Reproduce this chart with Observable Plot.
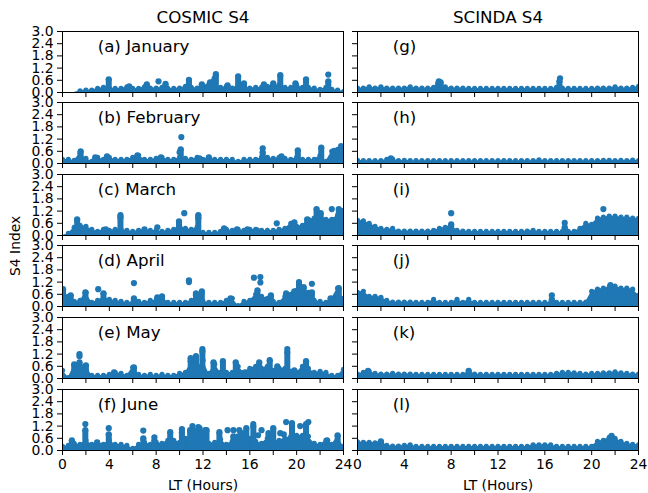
<!DOCTYPE html>
<html><head><meta charset="utf-8">
<script src="https://cdn.jsdelivr.net/npm/d3@7"></script>
<script src="https://cdn.jsdelivr.net/npm/@observablehq/plot@0.6"></script>
<style>
body{margin:0;background:#fff;}
#chart{position:relative;width:648px;height:493px;overflow:hidden;font-family:"DejaVu Sans",sans-serif;}
#chart svg{position:absolute;}
</style></head><body><div id="chart"></div>
<script>
// ---- data ----
const halfHours = [0,0.5,1,1.5,2,2.5,3,3.5,4,4.5,5,5.5,6,6.5,7,7.5,8,8.5,9,9.5,10,10.5,11,11.5,12,12.5,13,13.5,14,14.5,15,15.5,16,16.5,17,17.5,18,18.5,19,19.5,20,20.5,21,21.5,22,22.5,23,23.5,24];
const xTicks = [0,2,4,6,8,10,12,14,16,18,20,22,24];
const yTicks = [0,0.6,1.2,1.8,2.4,3.0];
const months = ["January","February","March","April","May","June"];
const cosmicLetters = ["a","b","c","d","e","f"];
const scindaLetters = ["g","h","i","j","k","l"];
const columnTitles = ["COSMIC S4","SCINDA S4"];

// COSMIC S4 dense envelope (every half hour)
const cosmicJanBase = [0,0,0,0.08,0.12,0.12,0.2,0.25,0.22,0.2, 0.2,0.28,0.2,0.2,0.28,0.22,0.22,0.25,0.2,0.2, 0.22,0.3,0.25,0.22,0.35,0.4,0.4,0.25,0.3,0.22, 0.35,0.3,0.22,0.25,0.25,0.3,0.4,0.35,0.25,0.25, 0.35,0.25,0.25,0.22,0.15,0.25,0.15,0.12,0.05];
const cosmicFebBase = [0.2,0.2,0.15,0.5,0.25,0.1,0.3,0.2,0.3,0.2, 0.2,0.2,0.3,0.4,0.2,0.2,0.25,0.3,0.2,0.2, 0.3,0.25,0.2,0.3,0.2,0.3,0.2,0.2,0.2,0.2, 0.1,0.2,0.2,0.2,0.3,0.3,0.25,0.3,0.25,0.2, 0.3,0.2,0.2,0.2,0.4,0.1,0.6,0.7,0.45];
const cosmicMarBase = [0,0.1,0.4,0.5,0.45,0.3,0.2,0.3,0.25,0.3, 0.3,0.25,0.2,0.25,0.25,0.25,0.25,0.2,0.25,0.3, 0.5,0.35,0.3,0.4,0.15,0.15,0.15,0.2,0.3,0.25, 0.3,0.25,0.3,0.3,0.25,0.25,0.25,0.3,0.35,0.6, 0.45,0.5,0.8,0.85,1.0,0.8,0.8,1.0,0.7];
const cosmicAprBase = [0.8,0.5,0.25,0.3,0.7,0.2,0.3,0.45,0.35,0.3, 0.25,0.2,0.2,0.25,0.2,0.3,0.3,0.5,0.2,0.2, 0.2,0.2,0.3,0.55,0.25,0.2,0.2,0.2,0.3,0.4, 0.05,0.25,0.3,0.6,0.5,0.4,0.25,0.2,0.5,0.6, 0.8,0.9,0.7,0.3,0.25,0.2,0.4,0.9,0.4];
const cosmicMayBase = [0.4,0.05,0.65,0.65,0.65,0.15,0.15,0.15,0.2,0.3, 0.25,0.15,0.55,0.2,0.15,0.2,0.15,0.2,0.15,0.15, 0.25,0.3,0.8,0.5,0.9,0.25,0.7,0.3,0.3,0.3, 0.6,0.3,0.5,0.6,0.5,0.6,0.4,0.5,0.5,0.35, 0.3,0.6,0.5,0.3,0.35,0.3,0.15,0.15,0.45];
const cosmicJunBase = [0.2,0.25,0.35,0.3,0.5,0.3,0.4,0.3,0.5,0.3, 0.3,0.25,0.1,0.3,0.4,0.3,0.4,0.35,0.5,0.5, 0.4,0.6,0.6,0.6,0.5,0.35,0.4,0.55,0.3,0.45, 0.5,0.55,0.6,0.45,0.35,0.6,0.45,0.5,0.6,0.7, 0.75,0.75,0.7,0.35,0.3,0.5,0.3,0.7,0.2];

// COSMIC S4 columns [hour, top] and isolated points [hour, value]
const cosmicJanCols = [[3.95,0.65],[5.7,0.3],[7.2,0.4],[8.8,0.42],[10.8,0.62],[11.9,0.4],[12.6,0.5],[13.1,0.9],[14.1,0.35],[15.0,0.8],[15.5,0.45],[17.2,0.4],[18.0,0.45],[18.6,0.85],[19.9,0.45],[20.8,0.65],[22.7,0.55]];
const cosmicJanDots = [[8.2,0.55],[22.7,0.88],[13.0,0.7],[12.9,0.55]];
const cosmicFebCols = [[1.55,0.6],[2.8,0.3],[3.8,0.35],[6.4,0.4],[8.4,0.3],[10.1,0.7],[11.7,0.25],[12.5,0.3],[17.1,0.55],[18.7,0.35],[20.1,0.65],[22.1,0.78],[23.2,0.62],[23.8,0.85]];
const cosmicFebDots = [[10.15,1.3],[17.1,0.75],[10.0,0.55]];
const cosmicMarCols = [[1.25,0.8],[3.7,0.3],[4.95,0.9],[7.0,0.3],[9.95,0.7],[11.6,1.0],[13.8,0.35],[14.9,0.3],[15.8,0.3],[16.6,0.25],[19.8,0.65],[20.9,0.8],[21.7,1.3],[22.05,1.1],[23.6,1.3],[23.9,1.2]];
const cosmicMarDots = [[4.95,1.0],[8.1,0.4],[10.4,1.1],[18.3,0.6],[23.0,1.3],[11.6,0.85]];
const cosmicAprCols = [[0.05,0.85],[0.7,0.55],[1.96,0.7],[3.5,0.65],[6.1,0.4],[8.1,0.45],[8.5,0.5],[11.4,0.55],[11.9,0.75],[14.35,0.4],[16.65,0.8],[17.8,0.55],[19.1,0.65],[19.8,0.75],[20.2,1.2],[20.6,0.95],[21.3,0.7],[22.9,0.4],[23.6,0.9]];
const cosmicAprDots = [[3.05,0.85],[6.1,1.15],[10.8,1.2],[10.8,1.28],[16.35,1.42],[16.9,1.45],[16.9,1.18],[21.3,1.12],[11.4,0.65]];
const cosmicMayCols = [[1.0,0.7],[1.45,0.8],[2.0,0.65],[4.4,0.3],[6.1,0.55],[10.95,1.0],[11.4,1.1],[11.95,1.35],[12.9,0.8],[13.7,0.85],[14.8,0.8],[15.6,0.3],[16.8,0.8],[17.7,0.9],[18.35,0.6],[19.2,1.3],[19.8,0.4],[20.8,0.85]];
const cosmicMayDots = [[1.45,1.2],[1.45,1.1],[11.95,1.45],[19.2,1.45],[10.95,0.85],[11.4,0.95]];
const cosmicJunCols = [[0.8,0.5],[1.95,1.0],[2.95,0.4],[3.95,0.8],[6.9,0.6],[7.85,0.5],[9.2,0.9],[10.2,0.9],[10.9,1.0],[11.3,0.95],[11.7,1.1],[12.0,0.85],[12.3,1.0],[13.4,0.9],[14.6,0.7],[15.3,0.85],[15.7,1.1],[16.3,1.2],[17.6,0.85],[18.0,1.1],[19.6,1.25],[20.8,1.3],[22.6,0.5],[23.5,0.75]];
const cosmicJunDots = [[1.95,1.3],[3.95,1.1],[6.9,0.98],[7.85,0.65],[10.2,1.05],[11.1,1.2],[11.6,1.15],[12.2,1.0],[14.1,1.0],[14.6,1.0],[15.1,1.0],[15.0,0.7],[16.3,1.3],[16.7,0.75],[17.0,1.0],[18.6,0.85],[18.9,0.8],[19.1,1.4],[19.6,1.35],[20.3,1.2],[21.0,1.4]];

// SCINDA S4 dense envelope (every half hour)
const scindaJanBase = [0.22,0.22,0.28,0.22,0.28,0.22,0.22,0.22,0.22,0.28, 0.22,0.22,0.22,0.25,0.45,0.28,0.22,0.22,0.22,0.2, 0.2,0.2,0.2,0.2,0.2,0.2,0.2,0.2,0.2,0.2, 0.2,0.2,0.2,0.2,0.25,0.22,0.2,0.2,0.2,0.2, 0.2,0.22,0.22,0.22,0.28,0.22,0.22,0.25,0.3];
const scindaFebBase = [0.16,0.14,0.14,0.14,0.14,0.2,0.22,0.14,0.16,0.14, 0.14,0.14,0.14,0.14,0.14,0.14,0.14,0.14,0.14,0.14, 0.14,0.14,0.14,0.14,0.14,0.14,0.14,0.14,0.14,0.14, 0.14,0.18,0.14,0.14,0.14,0.14,0.14,0.14,0.14,0.14, 0.14,0.14,0.16,0.16,0.14,0.16,0.14,0.17,0.14];
const scindaMarBase = [0.75,0.72,0.6,0.45,0.35,0.3,0.35,0.22,0.22,0.22, 0.22,0.22,0.22,0.25,0.35,0.4,0.5,0.25,0.22,0.2, 0.2,0.2,0.2,0.2,0.2,0.2,0.2,0.2,0.2,0.22, 0.25,0.2,0.2,0.2,0.2,0.2,0.2,0.2,0.35,0.6, 0.55,0.85,0.9,0.95,0.95,0.9,0.9,0.85,0.85];
const scindaAprBase = [0.7,0.75,0.5,0.5,0.45,0.3,0.22,0.22,0.22,0.22, 0.2,0.2,0.2,0.35,0.2,0.2,0.2,0.35,0.2,0.35, 0.2,0.2,0.2,0.2,0.2,0.2,0.2,0.2,0.2,0.2, 0.2,0.2,0.2,0.2,0.2,0.2,0.2,0.2,0.2,0.22, 0.75,0.85,0.9,0.95,1.0,0.9,0.9,0.85,0.55];
const scindaMayBase = [0.22,0.3,0.35,0.25,0.22,0.22,0.25,0.22,0.22,0.22, 0.2,0.2,0.2,0.2,0.2,0.2,0.2,0.2,0.2,0.35, 0.22,0.2,0.2,0.2,0.2,0.2,0.2,0.2,0.2,0.2, 0.2,0.2,0.2,0.2,0.25,0.3,0.3,0.28,0.25,0.22, 0.25,0.25,0.28,0.28,0.33,0.28,0.25,0.22,0.22];
const scindaJunBase = [0.42,0.4,0.4,0.38,0.45,0.25,0.22,0.22,0.25,0.28, 0.2,0.2,0.2,0.2,0.2,0.2,0.2,0.2,0.2,0.2, 0.2,0.2,0.2,0.2,0.2,0.2,0.2,0.2,0.2,0.2, 0.28,0.28,0.28,0.28,0.2,0.2,0.2,0.2,0.2,0.2, 0.2,0.45,0.5,0.65,0.6,0.45,0.35,0.3,0.28];

const scindaJanCols = [[6.9,0.45],[7.1,0.5],[17.25,0.55]];
const scindaJanDots = [[17.3,0.7],[6.95,0.55]];
const scindaFebCols = [[2.85,0.25]];
const scindaFebDots = [];
const scindaMarCols = [[8.0,0.55],[17.7,0.4]];
const scindaMarDots = [[8.0,1.1],[17.7,0.62],[21.0,1.3]];
const scindaAprCols = [[16.6,0.35],[21.6,1.05]];
const scindaAprDots = [[16.6,0.55]];
const scindaMayCols = [[0.9,0.38],[9.5,0.38]];
const scindaMayDots = [];
const scindaJunCols = [[2.0,0.45],[21.7,0.72]];
const scindaJunDots = [];

// ---- layout ----
const blue = "#1f77b4";
const panelTops = [31,102,174,245,317,389];
const panelHeight = 61, panelWidth = 281;
const panelLefts = [62, 357];
const chart = document.getElementById("chart");

const cosmic = [
  [cosmicJanBase, cosmicJanCols, cosmicJanDots],
  [cosmicFebBase, cosmicFebCols, cosmicFebDots],
  [cosmicMarBase, cosmicMarCols, cosmicMarDots],
  [cosmicAprBase, cosmicAprCols, cosmicAprDots],
  [cosmicMayBase, cosmicMayCols, cosmicMayDots],
  [cosmicJunBase, cosmicJunCols, cosmicJunDots]
];
const scinda = [
  [scindaJanBase, scindaJanCols, scindaJanDots],
  [scindaFebBase, scindaFebCols, scindaFebDots],
  [scindaMarBase, scindaMarCols, scindaMarDots],
  [scindaAprBase, scindaAprCols, scindaAprDots],
  [scindaMayBase, scindaMayCols, scindaMayDots],
  [scindaJunBase, scindaJunCols, scindaJunDots]
];

function panel(col, row) {
  const [base, cols, dots] = (col === 0 ? cosmic : scinda)[row];
  const label = col === 0 ? `(${cosmicLetters[row]}) ${months[row]}` : `(${scindaLetters[row]})`;
  const isLeft = col === 0, isBottom = row === 5;
  const mt = 4, mb = isBottom ? 44 : 8, ml = isLeft ? 62 : 8, mr = 3;
  const baseData = halfHours.map((h, i) => ({h, v: base[i]}));
  const colData = cols.map(([h, v]) => ({h, v}));
  const dotData = dots.map(([h, v]) => ({h, v}));
  const marks = [
    Plot.areaY(baseData, {x: "h", y: "v", fill: blue, clip: true}),
    Plot.dot(baseData.filter(d => d.v > 0.02), {x: "h", y: "v", r: 2.6, fill: blue, clip: true}),
    Plot.ruleX(colData, {x: "h", y1: 0, y2: "v", stroke: blue, strokeWidth: 6, clip: true}),
    Plot.dot(colData.concat(dotData), {x: "h", y: "v", r: 3.1, fill: blue, clip: true}),
    Plot.text([label], {x: 3, y: 1.97, text: d => d, textAnchor: "start", lineAnchor: "bottom", fontSize: 16.7, fill: "black"}),
    Plot.frame({stroke: "black", strokeWidth: 1})
  ];
  if (row === 0) marks.push(Plot.text([columnTitles[col]], {frameAnchor: "top", dy: -9, lineAnchor: "bottom", text: d => d, fontSize: 16.7, fill: "black"}));
  if (isBottom) marks.push(Plot.text(["LT (Hours)"], {frameAnchor: "bottom", dy: 39, lineAnchor: "bottom", text: d => d, fontSize: 13.9, fill: "black"}));
  if (isLeft && row === 3) marks.push(Plot.text(["S4 Index"], {frameAnchor: "left", dx: -47, rotate: -90, text: d => d, fontSize: 13.9, fill: "black"}));
  const svg = Plot.plot({
    width: ml + panelWidth + mr, height: mt + panelHeight + mb,
    marginTop: mt, marginBottom: mb, marginLeft: ml, marginRight: mr,
    style: {background: "transparent", overflow: "visible", fontFamily: "DejaVu Sans", fontSize: "13.9px", color: "black"},
    x: {domain: [0, 24], ticks: xTicks, tickSize: 5, tickPadding: 4,
        tickFormat: isBottom ? (d => d % 4 === 0 ? String(d) : "") : (() => ""), label: null},
    y: {domain: [0, 3], ticks: yTicks, tickSize: 5, tickPadding: 4,
        tickFormat: isLeft ? (d => d.toFixed(1)) : (() => ""), label: null},
    marks
  });
  svg.style.left = (panelLefts[col] - ml) + "px";
  svg.style.top = (panelTops[row] - mt) + "px";
  chart.appendChild(svg);
}

for (let row = 0; row < 6; row++) for (let col = 0; col < 2; col++) panel(col, row);
</script></body></html>
